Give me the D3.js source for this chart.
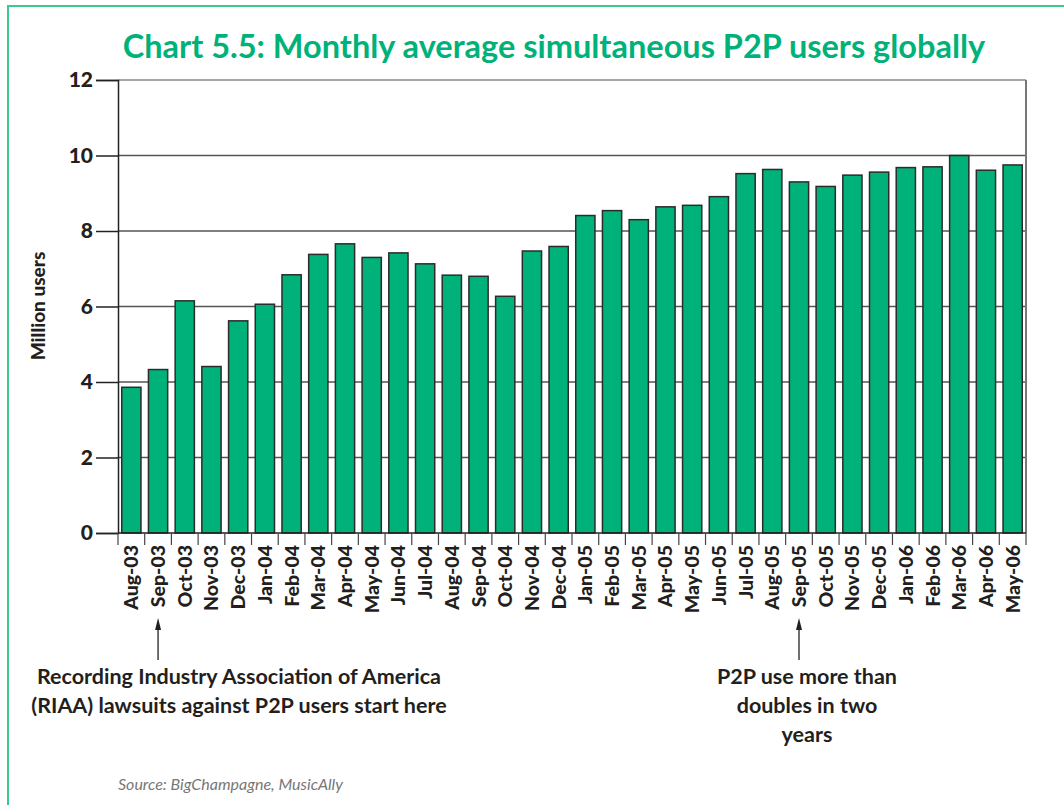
<!DOCTYPE html>
<html>
<head>
<meta charset="utf-8">
<script src="https://cdn.jsdelivr.net/npm/d3@7"></script>
<style>
  body { margin: 0; background: #fff; }
  text { font-family: Lato, "Open Sans", sans-serif; }
</style>
</head>
<body>
<svg width="1064" height="805"></svg>
<script>
// months on the x axis
const months = ["Aug-03", "Sep-03", "Oct-03", "Nov-03", "Dec-03",
  "Jan-04", "Feb-04", "Mar-04", "Apr-04", "May-04", "Jun-04", "Jul-04",
  "Aug-04", "Sep-04", "Oct-04", "Nov-04", "Dec-04",
  "Jan-05", "Feb-05", "Mar-05", "Apr-05", "May-05", "Jun-05", "Jul-05",
  "Aug-05", "Sep-05", "Oct-05", "Nov-05", "Dec-05",
  "Jan-06", "Feb-06", "Mar-06", "Apr-06", "May-06"];

// million simultaneous users
const users = [3.86, 4.33, 6.15, 4.41, 5.62,
  6.06, 6.84, 7.38, 7.66, 7.30, 7.42, 7.13,
  6.83, 6.80, 6.27, 7.47, 7.59,
  8.41, 8.54, 8.30, 8.64, 8.68, 8.91, 9.52,
  9.63, 9.30, 9.18, 9.48, 9.56,
  9.68, 9.70, 10.0, 9.61, 9.75];

const yTicks = [0, 2, 4, 6, 8, 10, 12];

const title = "Chart 5.5: Monthly average simultaneous P2P users globally";
const yLabel = "Million users";
const noteLeft = ["Recording Industry Association of America",
  "(RIAA) lawsuits against P2P users start here"];
const noteRight = ["P2P use more than", "doubles in two", "years"];
const source = "Source: BigChampagne, MusicAlly";

const svg = d3.select("svg");
const plotLeft = 118, plotRight = 1026, plotTop = 80, plotBottom = 533;
const green = "#00b27a", ink = "#231f20";

// outer green frame (only left and top edges show)
svg.append("rect")
  .attr("x", 8).attr("y", 6)
  .attr("width", 1100).attr("height", 900)
  .attr("fill", "none")
  .attr("stroke", "#3ec890")
  .attr("stroke-width", 2);

svg.append("text")
  .attr("x", 554).attr("y", 58)
  .attr("text-anchor", "middle")
  .attr("fill", green)
  .attr("font-size", 32.5)
  .attr("font-weight", "bold")
  .text(title);

const x = d3.scaleBand()
  .domain(months)
  .range([plotLeft, plotRight])
  .paddingInner(0.28)
  .paddingOuter(0.14);

const y = d3.scaleLinear()
  .domain([0, 12])
  .range([plotBottom, plotTop]);

// gridlines
svg.append("g")
  .selectAll("line")
  .data(yTicks.filter(d => d > 0))
  .join("line")
  .attr("x1", plotLeft).attr("x2", plotRight)
  .attr("y1", d => y(d)).attr("y2", d => y(d))
  .attr("stroke", d => d == 12 ? "#888" : "#555")
  .attr("stroke-width", 1.5);

// right border
svg.append("line")
  .attr("x1", plotRight).attr("x2", plotRight)
  .attr("y1", plotTop).attr("y2", plotBottom)
  .attr("stroke", "#777").attr("stroke-width", 2);

// bars
svg.append("g")
  .selectAll("rect")
  .data(users)
  .join("rect")
  .attr("x", (d, i) => x(months[i]))
  .attr("y", d => y(d))
  .attr("width", x.bandwidth())
  .attr("height", d => y(0) - y(d))
  .attr("fill", green)
  .attr("stroke", "#2b2b2b")
  .attr("stroke-width", 1.5);

// y axis
const yAxis = svg.append("g")
  .attr("transform", `translate(${plotLeft},0)`)
  .call(d3.axisLeft(y).tickValues(yTicks).tickSize(22).tickPadding(3).tickFormat(d3.format("d")));
yAxis.select(".domain").attr("stroke", "#222").attr("stroke-width", 1.5);
yAxis.selectAll(".tick line").attr("stroke", "#222").attr("stroke-width", 1.5);
yAxis.selectAll(".tick text")
  .attr("font-size", 21)
  .attr("font-weight", 900)
  .attr("fill", ink)
  .style("font-family", "Lato, sans-serif");

// x axis baseline and band boundary ticks
svg.append("line")
  .attr("x1", plotLeft).attr("x2", plotRight)
  .attr("y1", plotBottom).attr("y2", plotBottom)
  .attr("stroke", "#222").attr("stroke-width", 1.5);

svg.append("g")
  .selectAll("line")
  .data(d3.range(months.length + 1))
  .join("line")
  .attr("x1", i => plotLeft + i * x.step())
  .attr("x2", i => plotLeft + i * x.step())
  .attr("y1", plotBottom).attr("y2", plotBottom + 12)
  .attr("stroke", "#444").attr("stroke-width", 1.2);

// x labels, rotated
svg.append("g")
  .selectAll("text")
  .data(months)
  .join("text")
  .attr("transform", d => `translate(${x(d) + x.bandwidth() / 2 + 7},${plotBottom + 12}) rotate(-90)`)
  .attr("text-anchor", "end")
  .attr("font-size", 19.5)
  .attr("font-weight", 900)
  .attr("fill", ink)
  .text(d => d);

// y axis title
svg.append("text")
  .attr("transform", "translate(45,306) rotate(-90)")
  .attr("text-anchor", "middle")
  .attr("font-size", 19)
  .attr("font-weight", 900)
  .attr("fill", ink)
  .text(yLabel);

// annotation arrows
function arrow(month) {
  const cx = x(month) + x.bandwidth() / 2;
  svg.append("line")
    .attr("x1", cx).attr("x2", cx)
    .attr("y1", 660).attr("y2", 622)
    .attr("stroke", ink).attr("stroke-width", 1.3);
  svg.append("path")
    .attr("d", `M${cx - 3},630 L${cx},618 L${cx + 3},630 Z`)
    .attr("fill", ink);
}
arrow("Sep-03");
arrow("Sep-05");

svg.append("g")
  .selectAll("text")
  .data(noteLeft)
  .join("text")
  .attr("x", 239)
  .attr("y", (d, i) => 684 + i * 29)
  .attr("text-anchor", "middle")
  .attr("font-size", 21.5)
  .attr("font-weight", "bold")
  .attr("fill", ink)
  .text(d => d);

svg.append("g")
  .selectAll("text")
  .data(noteRight)
  .join("text")
  .attr("x", 807)
  .attr("y", (d, i) => 684 + i * 29)
  .attr("text-anchor", "middle")
  .attr("font-size", 21.5)
  .attr("font-weight", "bold")
  .attr("fill", ink)
  .text(d => d);

svg.append("text")
  .attr("x", 118).attr("y", 790)
  .attr("font-size", 16)
  .attr("font-style", "italic")
  .attr("fill", "#777")
  .text(source);
</script>
</body>
</html>
